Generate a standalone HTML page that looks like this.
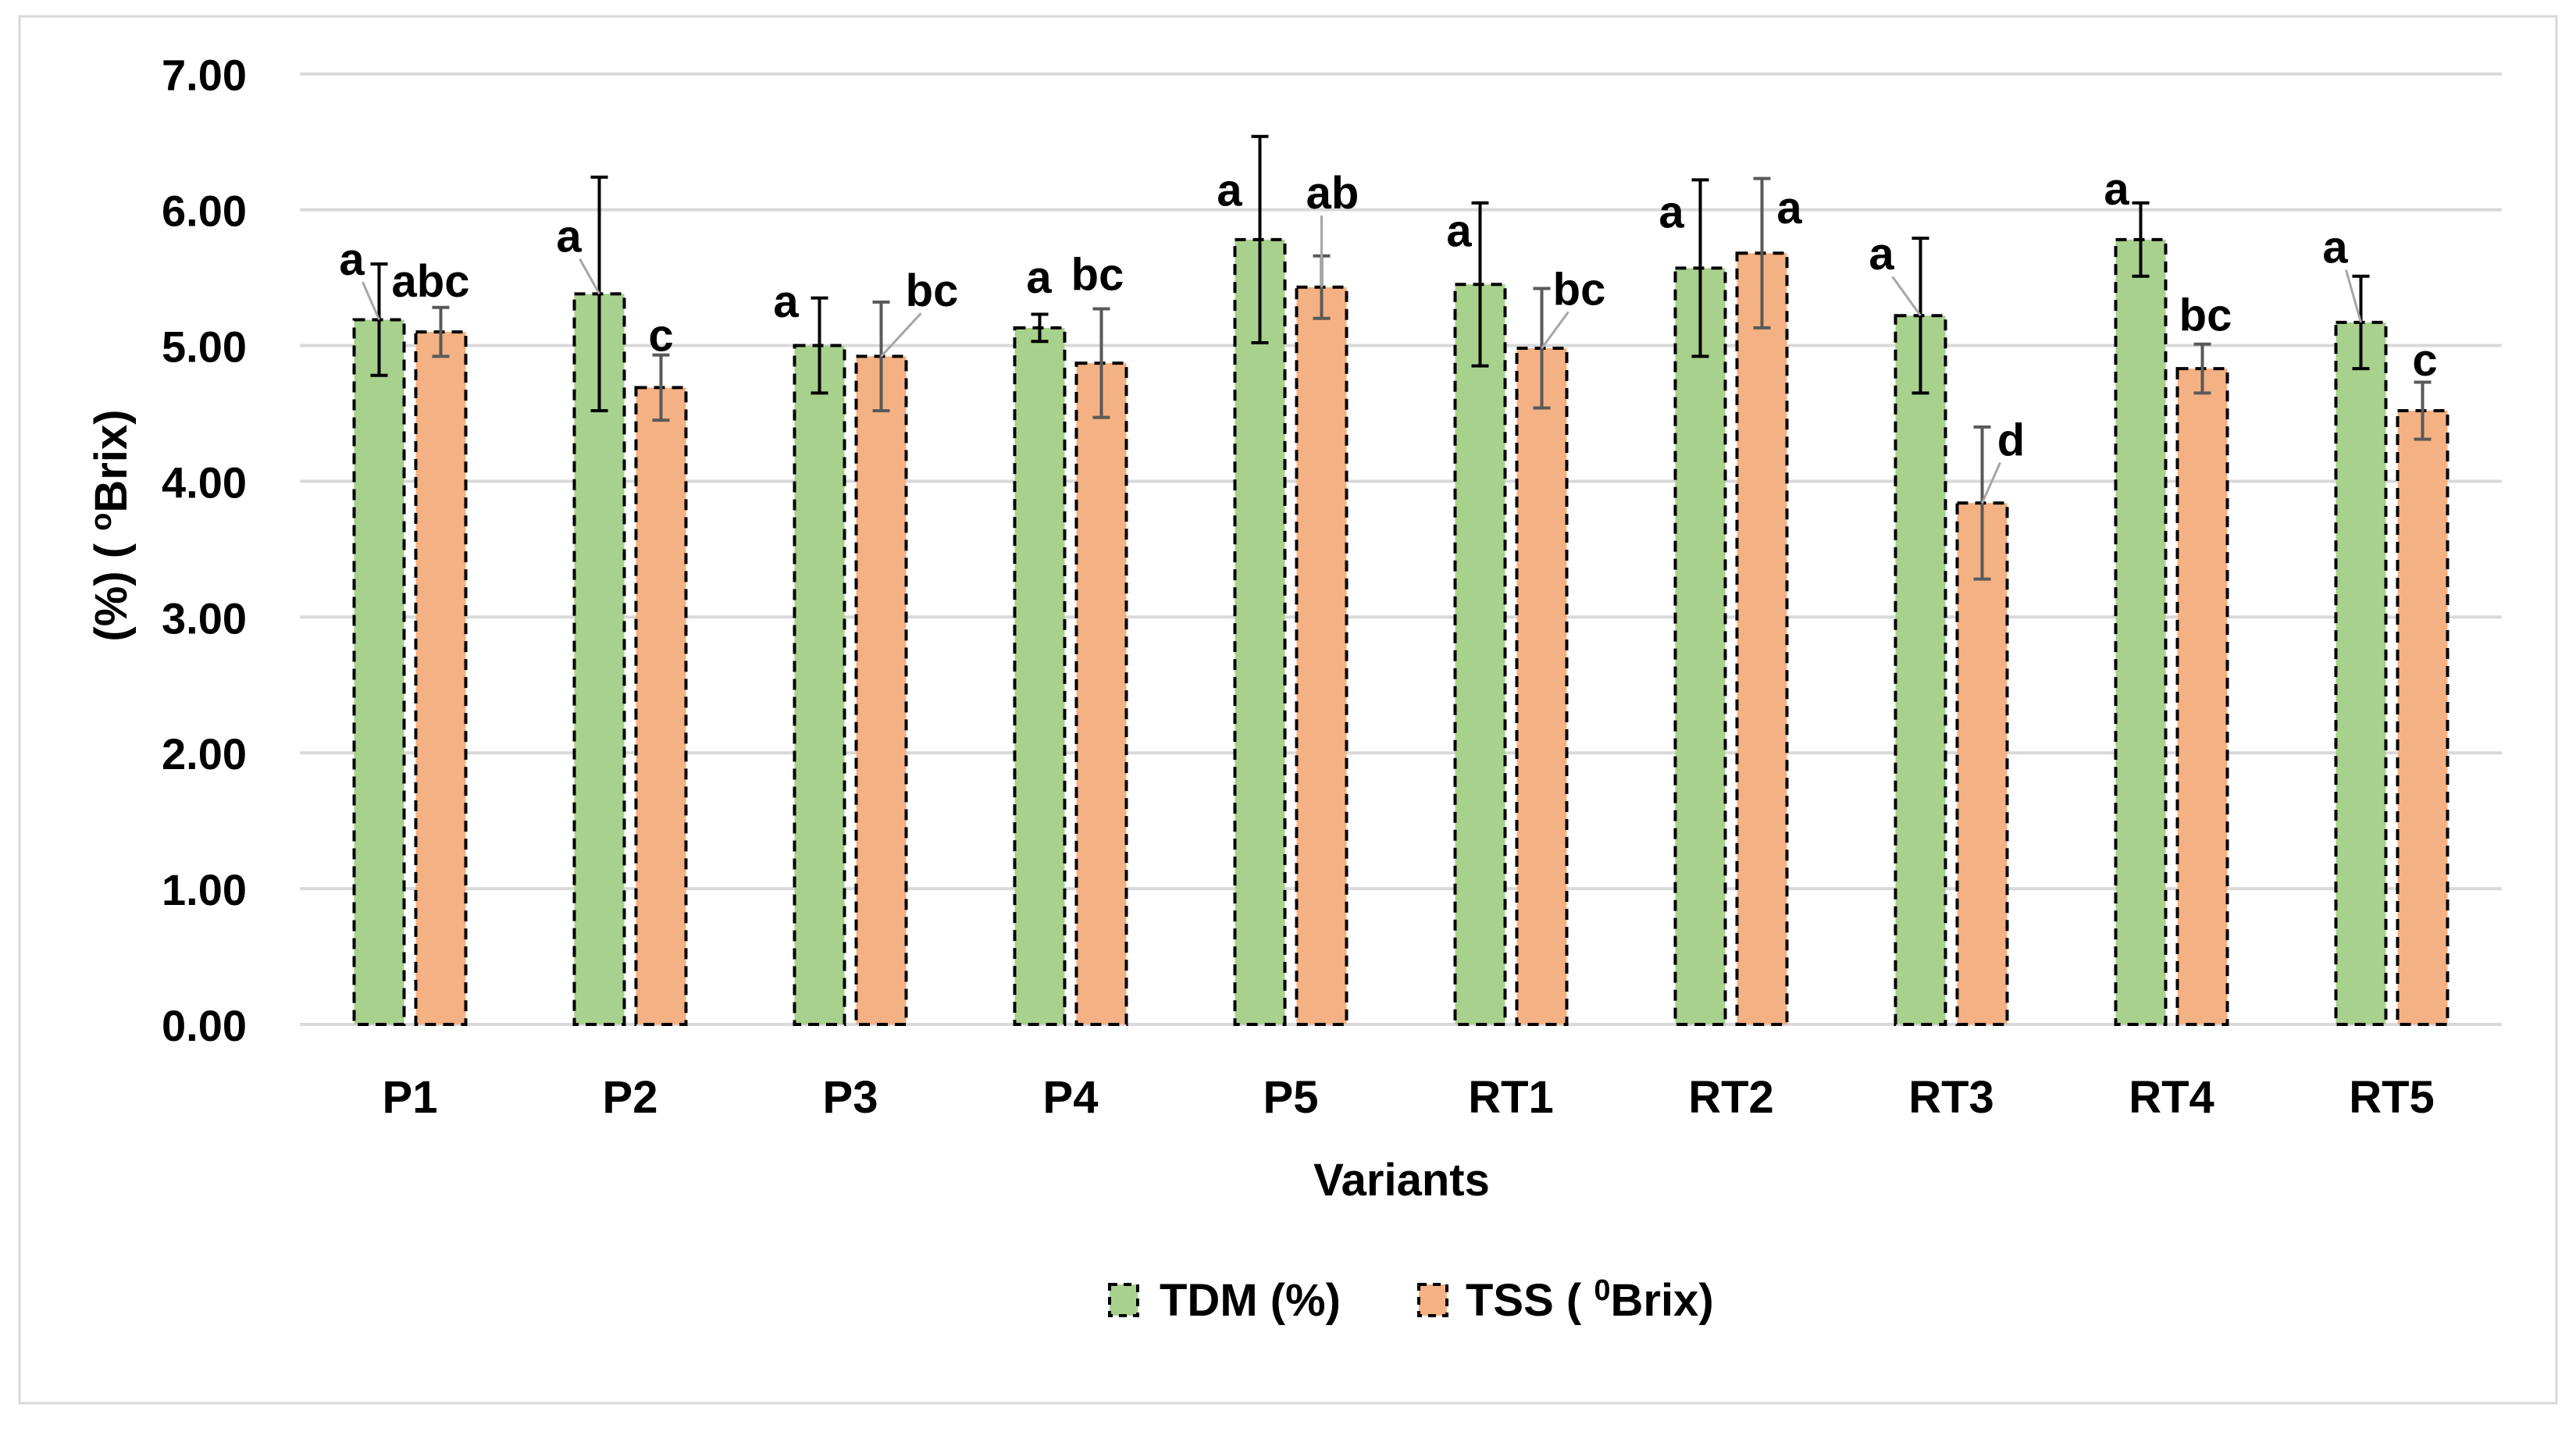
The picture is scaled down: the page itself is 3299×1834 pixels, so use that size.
<!DOCTYPE html>
<html><head><meta charset="utf-8">
<style>
html,body{margin:0;padding:0;background:#fff;}
svg text{font-family:"Liberation Sans",sans-serif;font-weight:bold;fill:#000;}
</style></head>
<body>
<svg id="chart" width="3299" height="1829" viewBox="0 0 3299 1829" xmlns="http://www.w3.org/2000/svg">
<rect x="25" y="21" width="3249" height="1776" fill="#fff" stroke="#d9d9d9" stroke-width="3"/>
<g id="grid"></g><g id="bars"></g><g id="labels"></g>
<text transform="translate(162,673) rotate(-90)" text-anchor="middle" font-size="58">(%)  ( <tspan font-size="38" dy="-20">o</tspan><tspan dy="20">Brix)</tspan></text>
<text x="1795" y="1531" text-anchor="middle" font-size="58">Variants</text>
<g>
<rect x="1421" y="1645" width="36" height="40" fill="#a9d18e" stroke="#000" stroke-width="4" stroke-dasharray="10,8"/>
<text x="1485" y="1685" font-size="58">TDM (%)</text>
<rect x="1817" y="1645" width="36" height="40" fill="#f4b183" stroke="#000" stroke-width="4" stroke-dasharray="10,8"/>
<text x="1877" y="1685" font-size="58">TSS ( <tspan font-size="38" dy="-20">0</tspan><tspan dy="20">Brix)</tspan></text>
</g>
</svg>
<script>
const categories=["P1","P2","P3","P4","P5","RT1","RT2","RT3","RT4","RT5"];
const tdm=[5.19,5.38,5.00,5.13,5.78,5.45,5.57,5.22,5.78,5.17];
const tdmErr=[0.41,0.86,0.35,0.10,0.76,0.60,0.65,0.57,0.27,0.34];
const tss=[5.10,4.69,4.92,4.87,5.43,4.98,5.68,3.84,4.83,4.52];
const tssErr=[0.18,0.24,0.40,0.40,0.23,0.44,0.55,0.56,0.18,0.21];
const tdmLetters=["a","a","a","a","a","a","a","a","a","a"];
const tssLetters=["abc","c","bc","bc","ab","bc","a","d","bc","c"];
const tdmLabelVal=[5.64,5.81,5.33,5.51,6.15,5.85,5.99,5.68,6.16,5.73];
const tssLabelVal=[5.48,5.08,5.41,5.53,6.13,5.42,6.02,4.31,5.23,4.90];
const tdmLabelDx=[-35,-39,-43,-1,-39,-27,-37,-50,-31,-33];
const tssLabelDx=[-13,0,65,-5,14,48,35,37,4,3];
const tdmLeader=[1,1,0,0,0,0,0,1,0,1];
const tssLeader=[0,0,1,0,1,1,0,1,0,0];
const yTicks=[0,1,2,3,4,5,6,7];
const yTickLabels=["0.00","1.00","2.00","3.00","4.00","5.00","6.00","7.00"];

const NS="http://www.w3.org/2000/svg";
const X0=384,X1=3204,Y0=1312,UNIT=173.9,BW=64,GAP=15;
const step=(X1-X0)/categories.length;
const y=v=>Y0-v*UNIT;
const xc=i=>X0+step*(i+0.5);
function mk(tag,attrs,parent){const e=document.createElementNS(NS,tag);for(const k in attrs)e.setAttribute(k,attrs[k]);parent.appendChild(e);return e;}
const grid=document.getElementById('grid'),bars=document.getElementById('bars'),labels=document.getElementById('labels');
yTicks.forEach((t,i)=>{
  const l=mk('line',{x1:X0,x2:X1,y1:y(t),y2:y(t),stroke:'#d9d9d9','stroke-width':4},grid);
  
  
  const tx=mk('text',{x:316,y:y(t)+21,'text-anchor':'end','font-size':56},grid);
  tx.textContent=yTickLabels[i];
  
  
});
function bar(cx,v,err,fill,errColor,name){
  const r=mk('rect',{x:cx-BW/2,y:y(v),width:BW,height:Y0-y(v),fill:fill,stroke:'#000','stroke-width':4,'stroke-dasharray':'14,9'},bars);
  
  
  const g=mk('g',{stroke:errColor,'stroke-width':4},bars);
  
  
  mk('line',{x1:cx,x2:cx,y1:y(v+err),y2:y(v-err)},g);
  mk('line',{x1:cx-11,x2:cx+11,y1:y(v+err),y2:y(v+err)},g);
  mk('line',{x1:cx-11,x2:cx+11,y1:y(v-err),y2:y(v-err)},g);
}
function label(cx,v,dx,lv,txt,leader,name){
  const lx=cx+dx,ly=y(lv);
  if(leader){
    const ln=mk('line',{x1:lx+(dx<0?14:-14),y1:ly+30,x2:cx,y2:y(v),stroke:'#a6a6a6','stroke-width':3},labels);
    
    
  }
  const t=mk('text',{x:lx,y:ly+21,'text-anchor':'middle','font-size':58},labels);
  t.textContent=txt;
  
  
}
categories.forEach((c,i)=>{
  const gx=xc(i)-(BW+GAP)/2, ox=xc(i)+(BW+GAP)/2;
  bar(gx,tdm[i],tdmErr[i],'#a9d18e','#000','bar-tdm-'+c.toLowerCase());
  bar(ox,tss[i],tssErr[i],'#f4b183','#595959','bar-tss-'+c.toLowerCase());
  label(gx,tdm[i],tdmLabelDx[i],tdmLabelVal[i],tdmLetters[i],tdmLeader[i],'tdm-significance-letter');
  label(ox,tss[i],tssLabelDx[i],tssLabelVal[i],tssLetters[i],tssLeader[i],'tss-significance-letter');
  const t=mk('text',{x:xc(i),y:1425,'text-anchor':'middle','font-size':58},labels);
  t.textContent=c;
  
  
});
</script>
</body></html>
